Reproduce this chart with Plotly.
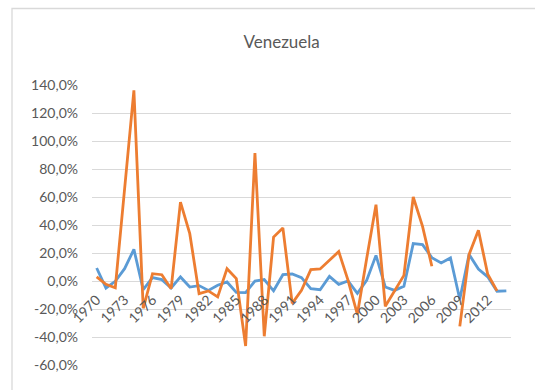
import plotly.graph_objects as go

# Annual series, in percent
years = list(range(1970, 2015))
serie_azul = [
    9.3, -5.0, -0.2, 8.8, 22.6, -6.2, 2.4, 1.0, -5.0, 2.9,
    -4.3, -3.3, -6.7, -3.0, -0.7, -8.1, -8.3, 0.0, 1.0, -7.0,
    4.5, 5.0, 2.4, -5.5, -6.2, 3.3, -2.4, 0.0, -8.8, 0.5,
    18.3, -4.3, -6.7, -3.8, 26.7, 26.0, 16.7, 12.9, 16.5, -13.0,
    19.0, 8.5, 3.0, -7.3, -7.0,
]
serie_naranja = [
    2.9, -2.4, -4.8, 66.0, 136.2, -19.5, 5.2, 4.5, -5.5, 56.4,
    33.8, -9.0, -7.1, -11.4, 8.8, 1.7, -46.4, 91.4, -39.5, 31.4,
    37.9, -16.0, -6.6, 8.1, 8.6, 14.8, 21.0, 0.5, -23.8, 16.0,
    54.5, -18.1, -6.7, 4.0, 60.0, 39.0, 10.5, None, None, -32.4,
    19.0, 36.2, 4.8, -7.1, None,
]
y_ticks = [-60, -40, -20, 0, 20, 40, 60, 80, 100, 120, 140]
x_ticks = list(range(1970, 2013, 3))

W, H = 535, 390
L, R, T, B = 92, 24, 85, 25
pw, ph = W - L - R, H - T - B

FONT = "Lato"
GREY = "#595959"
GRID = "#D9D9D9"

fig = go.Figure()
fig.add_trace(go.Scatter(x=years, y=serie_azul, mode="lines", name="Serie 1",
                         line=dict(color="#5B9BD5", width=2.8)))
fig.add_trace(go.Scatter(x=years, y=serie_naranja, mode="lines", name="Serie 2",
                         line=dict(color="#ED7D31", width=2.8)))

y_min, y_max = -60, 140
fig.update_layout(
    width=W, height=H,
    margin=dict(l=L, r=R, t=T, b=B),
    paper_bgcolor="white", plot_bgcolor="white",
    showlegend=False,
    font=dict(family=FONT, color=GREY),
    title=dict(text="Venezuela", x=281.6 / W, xanchor="center", xref="container",
               y=1 - 42.5 / H, yanchor="middle", yref="container",
               font=dict(family=FONT, size=17, color=GREY)),
    xaxis=dict(
        range=[1969.5, 2014.5],
        tickmode="array", tickvals=x_ticks,
        ticktext=[str(v) for v in x_ticks],
        tickangle=-45,
        tickfont=dict(family=FONT, size=14, color=GREY),
        showgrid=False, zeroline=False, showline=False,
        ticks="", anchor="free", position=(0 - y_min) / (y_max - y_min),
        ticklabelstandoff=7,
    ),
    yaxis=dict(
        range=[y_min, y_max],
        tickmode="array", tickvals=y_ticks,
        ticktext=[f"{v:.1f}%".replace(".", ",") for v in y_ticks],
        tickfont=dict(family=FONT, size=14, color=GREY),
        showgrid=True, gridcolor=GRID, gridwidth=1.3,
        zeroline=False, showline=False, ticks="",
        ticklabelstandoff=13,
    ),
)

# Chart frame
def px_to_paper_x(px):
    return (px - L) / pw

def px_to_paper_y(py):
    return (H - B - py) / ph

fig.add_shape(type="rect", xref="paper", yref="paper",
              x0=px_to_paper_x(12), x1=px_to_paper_x(W + 20),
              y0=px_to_paper_y(H + 20), y1=px_to_paper_y(8.5),
              line=dict(color=GRID, width=1.3), fillcolor="rgba(0,0,0,0)",
              layer="below")

fig.write_html("out.html")
